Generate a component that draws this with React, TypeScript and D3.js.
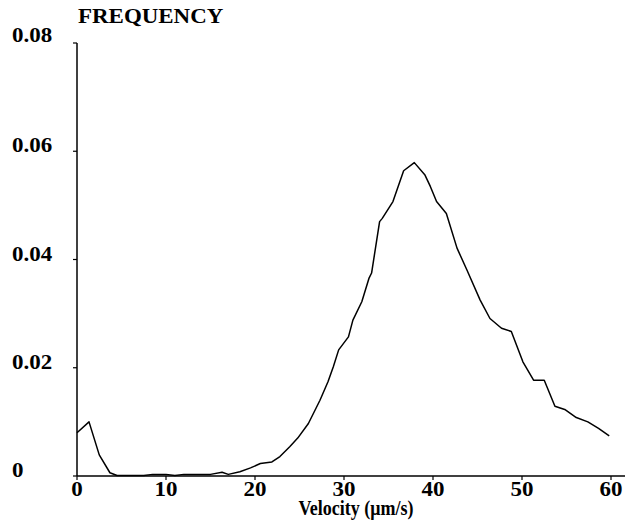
import React from "react";
import * as d3 from "d3";

const velocity = [0, 1.35, 2.5, 3.7, 4.5, 6, 7.5, 8.5, 10, 11, 12, 13.5, 15, 16.3, 17, 18.3, 19.5, 20.6, 21.9, 22.8, 23.9, 24.8, 26.0, 27.3, 28.2, 28.8, 29.4, 30.5, 31.0, 32.0, 32.8, 33.1, 34.0, 34.3, 35.5, 36.7, 37.9, 39.1, 39.7, 40.4, 41.5, 42.7, 43.8, 45.3, 46.4, 47.7, 48.8, 50.1, 51.3, 52.5, 53.7, 54.8, 56.1, 57.4, 58.6, 59.8];
const frequency = [0.008, 0.0100, 0.0039, 0.0006, 0.0001, 0.0001, 0.0001, 0.0003, 0.0003, 0.0001, 0.0003, 0.0003, 0.0003, 0.0007, 0.0003, 0.0008, 0.0015, 0.0023, 0.0026, 0.0036, 0.0054, 0.0070, 0.0097, 0.0140, 0.0174, 0.0202, 0.0233, 0.0257, 0.0288, 0.0322, 0.0365, 0.0375, 0.0470, 0.0476, 0.0507, 0.0564, 0.0579, 0.0556, 0.0535, 0.0507, 0.0485, 0.0421, 0.0381, 0.0325, 0.0291, 0.0273, 0.0267, 0.0211, 0.0177, 0.0177, 0.0129, 0.0123, 0.0108, 0.0100, 0.0088, 0.0074];
const xTicks = [0, 10, 20, 30, 40, 50, 60];
const yTicks = [0, 0.02, 0.04, 0.06, 0.08];
const yTickLabels = ["0", "0.02", "0.04", "0.06", "0.08"];

const font = "'Liberation Serif', 'Times New Roman', serif";

function T({ x, y, anchor = "start", sx = 1.12, size = 20.5, children }: { x: number; y: number; anchor?: string; sx?: number; size?: number; children: React.ReactNode }) {
  return (
    <text transform={`translate(${x},${y}) scale(${sx},1)`} textAnchor={anchor} fontFamily={font} fontWeight="bold" fontSize={size}>
      {children}
    </text>
  );
}

export default function App() {
  const W = 628, H = 521;
  const x = d3.scaleLinear().domain([0, 60]).range([77, 611]);
  const y = d3.scaleLinear().domain([0, 0.08]).range([476, 43]);
  const pts = velocity.map((v, i) => [v, frequency[i]] as [number, number]);
  const line = d3.line<[number, number]>().x(d => x(d[0])).y(d => y(d[1]));
  return (
    <svg width={W} height={H} style={{ position: "absolute", left: 0, top: 0, background: "#fff" }}>
      <T x={78} y={23}>FREQUENCY</T>
      <line x1={x(0)} x2={x(0)} y1={y(0.08)} y2={y(0)} stroke="#000" strokeWidth={1.5} />
      <line x1={x(0)} x2={625} y1={y(0)} y2={y(0)} stroke="#000" strokeWidth={1.5} />
      {yTicks.map((t, i) => (
        <g key={"y" + i}>
          <line x1={x(0) - 4} x2={x(0)} y1={y(t)} y2={y(t)} stroke="#000" strokeWidth={1.2} />
          <T x={12} y={y(t) + (i === 4 ? -1 : 1)}>{yTickLabels[i]}</T>
        </g>
      ))}
      {xTicks.map((t, i) => (
        <g key={"x" + i}>
          <line x1={x(t)} x2={x(t)} y1={y(0)} y2={y(0) + 4} stroke="#000" strokeWidth={1.2} />
          <T x={x(t)} y={y(0) + 20} anchor="middle">{t}</T>
        </g>
      ))}
      <T x={356} y={515} anchor="middle" sx={0.9} size={20}>Velocity (μm/s)</T>
      <path d={line(pts) || ""} fill="none" stroke="#000" strokeWidth={1.5} strokeLinejoin="round" />
    </svg>
  );
}
